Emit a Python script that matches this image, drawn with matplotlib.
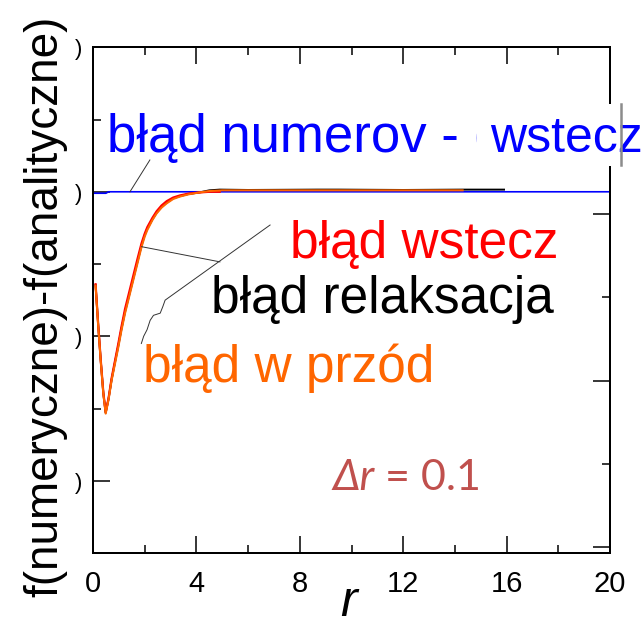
import matplotlib
matplotlib.use("Agg")
import matplotlib.pyplot as plt
from matplotlib.patches import Rectangle
from matplotlib.lines import Line2D
from matplotlib.ticker import MultipleLocator, FixedLocator

plt.rcParams['font.family'] = ['Liberation Sans', 'DejaVu Sans']

W, H, DPI = 643, 627, 100

# --- data -----------------------------------------------------------------
# forward-difference error (orange)
r_forward = [0.1, 0.2, 0.3, 0.4, 0.49, 0.6, 0.72, 0.85, 0.98, 1.1, 1.24, 1.4,
             1.56, 1.72, 1.88, 2.0, 2.1, 2.3, 2.46, 2.65, 2.85, 3.1, 3.37,
             3.7, 4.1, 4.5, 5.0, 6.0, 8.0, 10.0, 12.0, 14.3]
err_forward = [-1.3, -1.85, -2.35, -2.8, -3.07, -2.88, -2.61, -2.38, -2.15,
               -1.92, -1.68, -1.45, -1.22, -0.99, -0.76, -0.62, -0.53, -0.39,
               -0.30, -0.22, -0.16, -0.10, -0.065, -0.035, -0.01, 0.01, 0.02,
               0.02, 0.02, 0.02, 0.02, 0.02]

# backward-difference error (red)
r_backward = [0.1, 0.2, 0.3, 0.4, 0.49, 0.6, 0.72, 0.85, 0.98, 1.1, 1.24, 1.4,
              1.56, 1.72, 1.88, 2.0, 2.1, 2.3, 2.46, 2.65, 2.85, 3.1, 3.37,
              3.7, 4.1, 4.5, 4.9]
err_backward = [-1.28, -1.83, -2.33, -2.78, -3.05, -2.86, -2.58, -2.34, -2.1,
                -1.87, -1.62, -1.39, -1.16, -0.93, -0.71, -0.58, -0.49, -0.36,
                -0.27, -0.19, -0.13, -0.08, -0.05, -0.025, -0.01, 0.0, 0.0]

# relaxation error (black)
r_relax = [0.1, 0.2, 0.3, 0.4, 0.49, 0.6, 0.72, 0.85, 0.98, 1.1, 1.24, 1.4,
           1.56, 1.72, 1.88, 2.0, 2.1, 2.3, 2.46, 2.65, 2.85, 3.1, 3.37,
           3.7, 4.1, 4.5, 4.9, 6.0, 8.7, 9.5, 12.0, 14.3, 15.9]
err_relax = [-1.29, -1.84, -2.34, -2.79, -3.06, -2.87, -2.6, -2.36, -2.13,
             -1.9, -1.66, -1.43, -1.2, -0.97, -0.74, -0.6, -0.51, -0.38,
             -0.29, -0.21, -0.15, -0.09, -0.06, -0.03, -0.01, 0.02, 0.03,
             0.025, 0.03, 0.03, 0.025, 0.03, 0.03]

# Numerov error (blue)
r_numerov = [0.0, 0.5, 0.6, 20.0]
err_numerov = [-0.02, -0.02, 0.0, 0.0]

x_ticks = [0, 4, 8, 12, 16, 20]
x_ticklabels = ['0', '4', '8', '12', '16', '20']
y_ticks = [-4, -2, 0, 2]
y_ticklabels = [')', ')', ')', ')']

# --- figure ---------------------------------------------------------------
fig = plt.figure(figsize=(W / DPI, H / DPI), dpi=DPI)
fig.patch.set_facecolor('white')


def fx(x):
    return x / W


def fy(y):
    return 1 - y / H


ax = fig.add_axes([fx(93), fy(553), (610 - 93) / W, (553 - 47.3) / H])
ax.set_xlim(0, 20)
ax.set_ylim(-5, 2)

ax.plot(r_relax, err_relax, color='black', lw=1.4, zorder=2)
ax.plot(r_numerov, err_numerov, color='#0000FF', lw=1.2, zorder=3)
ax.plot(r_backward, err_backward, color='#FF0000', lw=1.6, zorder=4)
ax.plot(r_forward, err_forward, color='#FF6600', lw=1.5, zorder=5)

# leader lines from labels to curves
lead_kw = dict(color='#333333', lw=0.7, zorder=6)
ax.plot([2.2, 1.43], [0.44, 0.0], **lead_kw)
ax.plot([1.88, 4.91], [-0.76, -0.97], **lead_kw)
ax.plot([6.85, 2.79, 2.70, 2.60, 2.34, 2.21, 2.09, 1.96, 1.87],
        [-0.46, -1.50, -1.59, -1.68, -1.71, -1.78, -1.91, -2.00, -2.10],
        **lead_kw)

# axes styling
for sp in ax.spines.values():
    sp.set_linewidth(1.4)
ax.xaxis.set_major_locator(FixedLocator(x_ticks))
ax.set_xticklabels(x_ticklabels)
ax.xaxis.set_minor_locator(MultipleLocator(2))
ax.yaxis.set_major_locator(FixedLocator(y_ticks))
ax.set_yticklabels(y_ticklabels)
ax.yaxis.set_minor_locator(FixedLocator([-3, -1, 1]))
ax.tick_params(which='both', direction='in', top=True, right=False,
               width=1.1)
ax.tick_params(which='major', length=12.5)
ax.tick_params(which='minor', length=6)
ax.tick_params(axis='x', which='major', labelsize=21, pad=12)
ax.tick_params(axis='y', which='major', labelsize=16, pad=8)

# right-hand scale (ticks only)
axr = ax.twinx()
axr.set_ylim(-0.07, 6)
axr.yaxis.set_major_locator(FixedLocator([0, 2, 4, 6]))
axr.yaxis.set_minor_locator(FixedLocator([1, 3, 5]))
axr.tick_params(which='both', direction='in', width=1.1, labelright=False)
axr.tick_params(which='major', length=12.5)
axr.tick_params(which='minor', length=6)
for sp in axr.spines.values():
    sp.set_linewidth(1.4)

# axis titles
fig.text(fx(45), fy(306), 'f(numeryczne)-f(analityczne)', rotation=90,
         ha='center', va='center', fontsize=33)
fig.text(fx(348), fy(626.5), 'r', style='italic', ha='center',
         va='bottom', fontsize=36)

# curve labels
fig.text(fx(107), fy(152), 'błąd numerov - (', color='#0000FF',
         fontsize=38, va='baseline', zorder=3)
fig.patches.append(Rectangle((fx(477), fy(166)), fx(643) - fx(477),
                             (166 - 104) / H, transform=fig.transFigure,
                             facecolor='white', edgecolor='none', zorder=4))
fig.text(fx(490), fy(152), 'wstecz', color='#0000FF', fontsize=36,
         va='baseline', zorder=5)
fig.lines.append(Line2D([fx(621), fx(621)], [fy(104), fy(165)],
                        transform=fig.transFigure, color='#8C8C8C',
                        lw=1.8, zorder=6))

fig.text(fx(290), fy(258), 'błąd wstecz', color='#FF0000', fontsize=37,
         va='baseline')
fig.text(fx(211), fy(313), 'błąd relaksacja', color='black', fontsize=37,
         va='baseline')
fig.text(fx(143), fy(382), 'błąd w przód', color='#FF6600', fontsize=37,
         va='baseline')

# step size note
dr = fig.text(fx(332), fy(490), 'Δr', color='#C0504D', fontsize=31,
              style='italic', family=['Lato', 'DejaVu Sans'],
              va='baseline')
fig.texts.append(plt.Annotation(' = 0.1', xy=(1, 0), xycoords=dr,
                                va='bottom', ha='left', color='#C0504D',
                                fontsize=31, family=['Lato', 'DejaVu Sans']))
fig.texts[-1].set_figure(fig)

fig.savefig('out.png', dpi=DPI, facecolor='white')
